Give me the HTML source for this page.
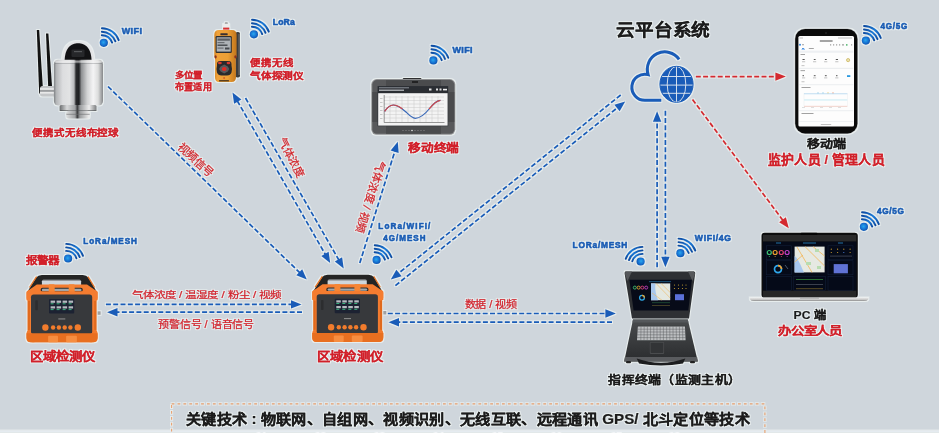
<!DOCTYPE html>
<html lang="zh-CN"><head><meta charset="utf-8"><style>
html,body{margin:0;padding:0;background:#cfd6dc;}
body{width:939px;height:433px;overflow:hidden;font-family:"Liberation Sans",sans-serif;}
svg{display:block}
</style></head><body>
<svg width="939" height="433" viewBox="0 0 939 433">
<filter id="halo" x="-5%" y="-5%" width="110%" height="110%" color-interpolation-filters="sRGB"><feMorphology in="SourceAlpha" operator="dilate" radius="0.9" result="d"/><feGaussianBlur in="d" stdDeviation="0.6" result="b"/><feFlood flood-color="#eef4f2" flood-opacity="0.75"/><feComposite in2="b" operator="in" result="h"/><feMerge><feMergeNode in="h"/><feMergeNode in="SourceGraphic"/></feMerge></filter>
<rect width="939" height="433" fill="#cfd6dc"/>
<g filter="url(#halo)"><defs>
<radialGradient id="dotg" cx="0.45" cy="0.45" r="0.6"><stop offset="0" stop-color="#29a8f0"/><stop offset="0.6" stop-color="#1670d0"/><stop offset="1" stop-color="#0b4ea8"/></radialGradient>
<linearGradient id="arcg" x1="0" y1="0" x2="1" y2="1"><stop offset="0" stop-color="#0d4aa0"/><stop offset="0.5" stop-color="#1a7ad8"/><stop offset="1" stop-color="#0d4aa0"/></linearGradient>
<linearGradient id="steel" x1="0" y1="0" x2="1" y2="0">
 <stop offset="0" stop-color="#8a8d90"/><stop offset="0.12" stop-color="#e8e9ea"/><stop offset="0.3" stop-color="#c9cbcd"/>
 <stop offset="0.48" stop-color="#6d7073"/><stop offset="0.56" stop-color="#b8babc"/><stop offset="0.8" stop-color="#f4f4f4"/><stop offset="1" stop-color="#9a9c9e"/></linearGradient>
<linearGradient id="orangeg" x1="0" y1="0" x2="0" y2="1"><stop offset="0" stop-color="#f58a36"/><stop offset="1" stop-color="#e86c1e"/></linearGradient>
<linearGradient id="silver" x1="0" y1="0" x2="0" y2="1"><stop offset="0" stop-color="#f0f0f0"/><stop offset="0.6" stop-color="#c8c8c8"/><stop offset="1" stop-color="#8a8a8a"/></linearGradient>
<linearGradient id="rugg" x1="0" y1="0" x2="0" y2="1"><stop offset="0" stop-color="#4a4c4e"/><stop offset="1" stop-color="#2a2c2e"/></linearGradient>
</defs><rect x="0" y="430.6" width="939" height="1.2" fill="#e6ecf0"/><text x="256" y="439.5" font-size="10" font-weight="bold" fill="#f4f6f8" font-family="Liberation Sans, sans-serif">01</text><text x="315" y="439.5" font-size="10" font-weight="bold" fill="#f4f6f8" font-family="Liberation Sans, sans-serif">02</text><text x="374" y="439.5" font-size="10" font-weight="bold" fill="#f4f6f8" font-family="Liberation Sans, sans-serif">03</text><text x="433" y="439.5" font-size="10" font-weight="bold" fill="#f4f6f8" font-family="Liberation Sans, sans-serif">04</text><text x="492" y="439.5" font-size="10" font-weight="bold" fill="#f4f6f8" font-family="Liberation Sans, sans-serif">05</text><text x="551" y="439.5" font-size="10" font-weight="bold" fill="#f4f6f8" font-family="Liberation Sans, sans-serif">06</text><text x="611" y="439.5" font-size="10" font-weight="bold" fill="#f4f6f8" font-family="Liberation Sans, sans-serif">07</text><text x="669" y="439.5" font-size="10" font-weight="bold" fill="#f4f6f8" font-family="Liberation Sans, sans-serif">08</text><rect x="171.6" y="403.9" width="593.3" height="40" fill="none" stroke="#e8a070" stroke-width="1.1" stroke-dasharray="2.8 3.1"/><line x1="108.00" y1="86.50" x2="299.98" y2="272.88" stroke="#1a5cb8" stroke-width="1.7" stroke-dasharray="5 2.3"/><path d="M306.80,279.50 L296.34,275.20 L302.19,269.17Z" fill="#1a5cb8"/><line x1="237.23" y1="100.74" x2="325.47" y2="254.66" stroke="#1a5cb8" stroke-width="1.7" stroke-dasharray="5 2.3"/><path d="M330.20,262.90 L321.33,255.88 L328.62,251.70Z" fill="#1a5cb8"/><path d="M232.50,92.50 L241.37,99.52 L234.08,103.70Z" fill="#1a5cb8"/><line x1="245.50" y1="98.00" x2="338.96" y2="260.17" stroke="#1a5cb8" stroke-width="1.7" stroke-dasharray="5 2.3"/><path d="M343.70,268.40 L334.82,261.40 L342.10,257.21Z" fill="#1a5cb8"/><line x1="359.80" y1="262.90" x2="394.96" y2="150.86" stroke="#1a5cb8" stroke-width="1.7" stroke-dasharray="5 2.3"/><path d="M397.80,141.80 L398.66,153.08 L390.65,150.56Z" fill="#1a5cb8"/><line x1="620.70" y1="95.00" x2="398.21" y2="273.55" stroke="#1a5cb8" stroke-width="1.7" stroke-dasharray="5 2.3"/><path d="M390.80,279.50 L396.36,269.65 L401.62,276.20Z" fill="#1a5cb8"/><line x1="395.40" y1="285.60" x2="617.79" y2="107.44" stroke="#1a5cb8" stroke-width="1.7" stroke-dasharray="5 2.3"/><path d="M625.20,101.50 L619.63,111.34 L614.38,104.79Z" fill="#1a5cb8"/><line x1="105.90" y1="304.40" x2="292.00" y2="304.40" stroke="#1a5cb8" stroke-width="1.7" stroke-dasharray="5 2.3"/><path d="M301.50,304.40 L291.00,308.60 L291.00,300.20Z" fill="#1a5cb8"/><line x1="302.00" y1="312.20" x2="116.50" y2="312.20" stroke="#1a5cb8" stroke-width="1.7" stroke-dasharray="5 2.3"/><path d="M107.00,312.20 L117.50,308.00 L117.50,316.40Z" fill="#1a5cb8"/><line x1="387.80" y1="313.50" x2="606.40" y2="313.50" stroke="#1a5cb8" stroke-width="1.7" stroke-dasharray="5 2.3"/><path d="M615.90,313.50 L605.40,317.70 L605.40,309.30Z" fill="#1a5cb8"/><line x1="612.00" y1="322.20" x2="398.00" y2="322.20" stroke="#1a5cb8" stroke-width="1.7" stroke-dasharray="5 2.3"/><path d="M388.50,322.20 L399.00,318.00 L399.00,326.40Z" fill="#1a5cb8"/><line x1="657.10" y1="267.30" x2="657.10" y2="120.70" stroke="#1a5cb8" stroke-width="1.7" stroke-dasharray="5 2.3"/><path d="M657.10,111.20 L661.30,121.70 L652.90,121.70Z" fill="#1a5cb8"/><line x1="665.40" y1="110.70" x2="665.40" y2="257.80" stroke="#1a5cb8" stroke-width="1.7" stroke-dasharray="5 2.3"/><path d="M665.40,267.30 L661.20,256.80 L669.60,256.80Z" fill="#1a5cb8"/><line x1="695.80" y1="76.60" x2="776.40" y2="76.60" stroke="#d42a30" stroke-width="1.7" stroke-dasharray="5 2.3"/><path d="M785.90,76.60 L775.40,80.80 L775.40,72.40Z" fill="#d42a30"/><line x1="692.50" y1="99.50" x2="783.11" y2="220.59" stroke="#d42a30" stroke-width="1.7" stroke-dasharray="5 2.3"/><path d="M788.80,228.20 L779.15,222.31 L785.87,217.28Z" fill="#d42a30"/><g transform="translate(101.60000000000001,46.4)"><circle cx="2.2" cy="-3.6" r="4.1" fill="url(#dotg)"/><path d="M0.20,-11.20 A11.2,11.2 0 0 1 10.52,-3.83" fill="none" stroke="url(#arcg)" stroke-width="1.9" stroke-linecap="round"/><path d="M0.26,-14.70 A14.7,14.7 0 0 1 13.81,-5.03" fill="none" stroke="url(#arcg)" stroke-width="1.9" stroke-linecap="round"/><path d="M0.32,-18.20 A18.2,18.2 0 0 1 17.10,-6.22" fill="none" stroke="url(#arcg)" stroke-width="1.9" stroke-linecap="round"/></g><g transform="translate(251.7,37.9)"><circle cx="2.2" cy="-3.6" r="4.1" fill="url(#dotg)"/><path d="M0.20,-11.20 A11.2,11.2 0 0 1 10.52,-3.83" fill="none" stroke="url(#arcg)" stroke-width="1.9" stroke-linecap="round"/><path d="M0.26,-14.70 A14.7,14.7 0 0 1 13.81,-5.03" fill="none" stroke="url(#arcg)" stroke-width="1.9" stroke-linecap="round"/><path d="M0.32,-18.20 A18.2,18.2 0 0 1 17.10,-6.22" fill="none" stroke="url(#arcg)" stroke-width="1.9" stroke-linecap="round"/></g><g transform="translate(431.2,64.0)"><circle cx="2.2" cy="-3.6" r="4.1" fill="url(#dotg)"/><path d="M0.20,-11.20 A11.2,11.2 0 0 1 10.52,-3.83" fill="none" stroke="url(#arcg)" stroke-width="1.9" stroke-linecap="round"/><path d="M0.26,-14.70 A14.7,14.7 0 0 1 13.81,-5.03" fill="none" stroke="url(#arcg)" stroke-width="1.9" stroke-linecap="round"/><path d="M0.32,-18.20 A18.2,18.2 0 0 1 17.10,-6.22" fill="none" stroke="url(#arcg)" stroke-width="1.9" stroke-linecap="round"/></g><g transform="translate(863.7,44.2)"><circle cx="2.2" cy="-3.6" r="4.1" fill="url(#dotg)"/><path d="M0.20,-11.20 A11.2,11.2 0 0 1 10.52,-3.83" fill="none" stroke="url(#arcg)" stroke-width="1.9" stroke-linecap="round"/><path d="M0.26,-14.70 A14.7,14.7 0 0 1 13.81,-5.03" fill="none" stroke="url(#arcg)" stroke-width="1.9" stroke-linecap="round"/><path d="M0.32,-18.20 A18.2,18.2 0 0 1 17.10,-6.22" fill="none" stroke="url(#arcg)" stroke-width="1.9" stroke-linecap="round"/></g><g transform="translate(861.7,230.4)"><circle cx="2.2" cy="-3.6" r="4.1" fill="url(#dotg)"/><path d="M0.20,-11.20 A11.2,11.2 0 0 1 10.52,-3.83" fill="none" stroke="url(#arcg)" stroke-width="1.9" stroke-linecap="round"/><path d="M0.26,-14.70 A14.7,14.7 0 0 1 13.81,-5.03" fill="none" stroke="url(#arcg)" stroke-width="1.9" stroke-linecap="round"/><path d="M0.32,-18.20 A18.2,18.2 0 0 1 17.10,-6.22" fill="none" stroke="url(#arcg)" stroke-width="1.9" stroke-linecap="round"/></g><g transform="translate(642.8,265.1) scale(-1,1)"><circle cx="2.2" cy="-3.6" r="4.1" fill="url(#dotg)"/><path d="M0.20,-11.20 A11.2,11.2 0 0 1 10.52,-3.83" fill="none" stroke="url(#arcg)" stroke-width="1.9" stroke-linecap="round"/><path d="M0.26,-14.70 A14.7,14.7 0 0 1 13.81,-5.03" fill="none" stroke="url(#arcg)" stroke-width="1.9" stroke-linecap="round"/><path d="M0.32,-18.20 A18.2,18.2 0 0 1 17.10,-6.22" fill="none" stroke="url(#arcg)" stroke-width="1.9" stroke-linecap="round"/></g><g transform="translate(678.2,256.8)"><circle cx="2.2" cy="-3.6" r="4.1" fill="url(#dotg)"/><path d="M0.20,-11.20 A11.2,11.2 0 0 1 10.52,-3.83" fill="none" stroke="url(#arcg)" stroke-width="1.9" stroke-linecap="round"/><path d="M0.26,-14.70 A14.7,14.7 0 0 1 13.81,-5.03" fill="none" stroke="url(#arcg)" stroke-width="1.9" stroke-linecap="round"/><path d="M0.32,-18.20 A18.2,18.2 0 0 1 17.10,-6.22" fill="none" stroke="url(#arcg)" stroke-width="1.9" stroke-linecap="round"/></g><g transform="translate(65.9,262.1)"><circle cx="2.2" cy="-3.6" r="4.1" fill="url(#dotg)"/><path d="M0.20,-11.20 A11.2,11.2 0 0 1 10.52,-3.83" fill="none" stroke="url(#arcg)" stroke-width="1.9" stroke-linecap="round"/><path d="M0.26,-14.70 A14.7,14.7 0 0 1 13.81,-5.03" fill="none" stroke="url(#arcg)" stroke-width="1.9" stroke-linecap="round"/><path d="M0.32,-18.20 A18.2,18.2 0 0 1 17.10,-6.22" fill="none" stroke="url(#arcg)" stroke-width="1.9" stroke-linecap="round"/></g><g transform="translate(374.4,263.5)"><circle cx="2.2" cy="-3.6" r="4.1" fill="url(#dotg)"/><path d="M0.20,-11.20 A11.2,11.2 0 0 1 10.52,-3.83" fill="none" stroke="url(#arcg)" stroke-width="1.9" stroke-linecap="round"/><path d="M0.26,-14.70 A14.7,14.7 0 0 1 13.81,-5.03" fill="none" stroke="url(#arcg)" stroke-width="1.9" stroke-linecap="round"/><path d="M0.32,-18.20 A18.2,18.2 0 0 1 17.10,-6.22" fill="none" stroke="url(#arcg)" stroke-width="1.9" stroke-linecap="round"/></g><path d="M661.3,100.3 L645,100.3 A13.05,13.05 0 1 1 648.1,74.6 A17.5,17.5 0 0 1 679.1,59.3" fill="none" stroke="#1a5cb8" stroke-width="3" stroke-linecap="butt"/><g transform="translate(676.5,84.3)"><ellipse rx="16.6" ry="18" fill="#1a5cb8"/><g stroke="#e6ecf2" stroke-width="0.9" fill="none"><line x1="-17" y1="0.8" x2="17" y2="0.8"/><line x1="-15" y1="-7.8" x2="15" y2="-7.8"/><line x1="-15" y1="9" x2="15" y2="9"/><line x1="0" y1="-18" x2="0" y2="18"/><ellipse rx="9.3" ry="18"/></g><ellipse rx="16.6" ry="18" fill="none" stroke="#1a5cb8" stroke-width="1"/></g><g>
<linearGradient id="steel2" x1="53.9" y1="0" x2="103" y2="0" gradientUnits="userSpaceOnUse">
 <stop offset="0" stop-color="#7e8184"/><stop offset="0.05" stop-color="#b4b6b8"/><stop offset="0.18" stop-color="#dcdddf"/>
 <stop offset="0.32" stop-color="#e2e3e4"/><stop offset="0.41" stop-color="#b9babc"/><stop offset="0.45" stop-color="#2a2b2d"/>
 <stop offset="0.51" stop-color="#1e1f21"/><stop offset="0.56" stop-color="#8e9092"/><stop offset="0.68" stop-color="#d2d3d4"/>
 <stop offset="0.8" stop-color="#f4f4f5"/><stop offset="0.9" stop-color="#dcdddd"/><stop offset="1" stop-color="#86888a"/></linearGradient>
<linearGradient id="steel3" x1="59.6" y1="0" x2="96.5" y2="0" gradientUnits="userSpaceOnUse">
 <stop offset="0" stop-color="#6a6c6e"/><stop offset="0.2" stop-color="#d8d9da"/><stop offset="0.42" stop-color="#a0a2a4"/>
 <stop offset="0.48" stop-color="#3a3b3d"/><stop offset="0.55" stop-color="#9a9c9e"/><stop offset="0.8" stop-color="#eeeeee"/><stop offset="1" stop-color="#7a7c7e"/></linearGradient>
<path d="M36.8,30 L39.2,30 L43.2,93.5 L39.2,93.5 Z" fill="#121212"/>
<path d="M46,33.6 L48.4,33.6 L52.4,92 L48.4,92 Z" fill="#121212"/>
<rect x="40" y="86" width="17.8" height="10.5" rx="2.5" fill="#c4c6c8"/>
<rect x="40" y="88.3" width="17.8" height="1.3" fill="#f2f2f2"/><rect x="40" y="92.2" width="17.8" height="1.3" fill="#f2f2f2"/>
<rect x="40" y="90.3" width="17.8" height="1.2" fill="#8a8c8e"/>
<path d="M62,62 C62,45.5 70,41 78.1,41 C86.2,41 94.2,45.5 94.2,62 Z" fill="#e4e5e7"/>
<path d="M64.6,62 C64.6,47.5 71,43.2 78.1,43.2 C85.2,43.2 91.6,47.5 91.6,62 Z" fill="#121214"/>
<rect x="71.5" y="49.5" width="13" height="7.5" rx="1" fill="#26272a"/>
<rect x="74" y="51" width="8" height="1.2" fill="#55575a"/>
<rect x="53.9" y="59.8" width="49.1" height="45.7" rx="4.5" fill="url(#steel2)"/>
<rect x="55" y="60.5" width="47" height="2.2" rx="1" fill="#f0f0f0" opacity="0.55"/>
<rect x="55" y="63" width="47" height="0.8" fill="#5a5c5e" opacity="0.35"/>
<rect x="59.6" y="105" width="36.9" height="6" rx="1.5" fill="url(#steel3)"/>
<rect x="59.6" y="110" width="36.9" height="1" fill="#4a4c4e" opacity="0.6"/>
<rect x="66.4" y="110.8" width="23.3" height="7.8" rx="2.5" fill="url(#steel3)"/>
<rect x="66.4" y="113.8" width="23.3" height="1" fill="#6a6c6e" opacity="0.6"/>
</g><g>
<linearGradient id="gasg" x1="213.8" y1="0" x2="237" y2="0" gradientUnits="userSpaceOnUse">
 <stop offset="0" stop-color="#cf7f1c"/><stop offset="0.15" stop-color="#f0a23a"/><stop offset="0.6" stop-color="#eca036"/><stop offset="1" stop-color="#c0731a"/></linearGradient>
<rect x="224.8" y="22.3" width="3" height="2" rx="0.8" fill="#9a9a9a"/>
<rect x="223.1" y="23.8" width="6.2" height="6.6" rx="1.2" fill="#ececec"/>
<rect x="223.1" y="27.6" width="6.2" height="2" fill="#d83030"/>
<rect x="235.5" y="32" width="4.5" height="45.5" rx="1.8" fill="#3c3d3e"/>
<rect x="238.6" y="34" width="1" height="41" fill="#7a7b7c"/>
<path d="M214.3,35 Q214.3,30 219,30 L232,30 Q236.6,30 236.6,35 L236.6,56 Q235.6,58.5 235.8,61 L236,77 Q236,82 231.5,82 L219,82 Q215,82 215,77 L215.2,61 Q215.2,58.5 214.3,56 Z" fill="url(#gasg)"/>
<rect x="220.4" y="33.3" width="7.3" height="2" rx="0.5" fill="#3a3030"/>
<rect x="215.6" y="36.1" width="16.2" height="16.8" rx="1.2" fill="#2e3033"/>
<rect x="216.7" y="37.3" width="14" height="14.3" fill="#aeb3b7"/>
<rect x="217.5" y="38.5" width="12.4" height="2.2" fill="#5a5e62"/>
<rect x="217.5" y="42" width="7" height="1.2" fill="#6a6e72"/><rect x="217.5" y="44.5" width="10" height="1.4" fill="#44484c"/>
<rect x="217.5" y="47.5" width="6" height="1.2" fill="#6a6e72"/><rect x="225" y="47.5" width="4.5" height="2" fill="#44484c"/>
<ellipse cx="215.6" cy="56.8" rx="1.1" ry="1.6" fill="#8a3020"/><ellipse cx="235.4" cy="56.8" rx="1.1" ry="1.6" fill="#8a3020"/>
<path d="M220,61 L228.5,61 Q231.5,61 231.5,64 L231.5,65.5 Q232.5,69 231.5,72.5 Q230.5,75.5 227,75.5 L221.5,75.5 Q218,75.5 217,72.5 Q216,69 217,65.5 L217,64 Q217,61 220,61 Z" fill="#2a2a2c"/>
<ellipse cx="219.9" cy="63" rx="1.9" ry="1.2" fill="#d83a30"/><ellipse cx="228.5" cy="63" rx="1.9" ry="1.2" fill="#d83a30"/>
<path d="M224.2,64.5 L227.8,66.5 L229.3,69 L227.8,71.5 L224.2,73.5 L220.6,71.5 L219.1,69 L220.6,66.5 Z" fill="#58595b"/>
<ellipse cx="224.2" cy="69" rx="2.4" ry="2" fill="#e02a24"/>
<circle cx="224.1" cy="78" r="0.8" fill="#c03020"/>
<rect x="219" y="80" width="10" height="1.5" rx="0.6" fill="#5a4020"/>
</g><g>
<rect x="402.7" y="78" width="18.8" height="3.5" rx="1.2" fill="#2e2e30"/>
<rect x="371.3" y="79.1" width="84" height="55.7" rx="5.5" fill="#8e8f91"/>
<rect x="372.3" y="80.1" width="82" height="53.7" rx="4.5" fill="#58595b"/>
<rect x="386" y="80.1" width="55" height="53.7" fill="#4a4b4d"/>
<rect x="372.3" y="92" width="82" height="30" fill="#4a4b4d"/>
<rect x="412" y="81.2" width="6" height="1.6" fill="#1a1a1a"/>
<rect x="377.6" y="86.1" width="70.6" height="40.1" fill="#2a2d32"/>
<rect x="378.2" y="93.2" width="69.4" height="32.4" fill="#f3f3f3"/>
<rect x="379" y="87.3" width="30" height="1" fill="#8a9098"/><rect x="379" y="89.6" width="25" height="1.2" fill="#c0c4c8"/>
<rect x="436" y="88.5" width="2" height="2" fill="#e0e0e0"/><rect x="439.5" y="88.5" width="2" height="2" fill="#e0e0e0"/><rect x="443" y="88.8" width="4" height="1.6" fill="#f0f0f0"/>
<rect x="429" y="88.5" width="2.5" height="2" fill="#e0e0e0"/>
<g stroke="#c8c8c8" stroke-width="0.45">
<line x1="384" y1="97" x2="444" y2="97"/><line x1="384" y1="100.5" x2="444" y2="100.5"/><line x1="384" y1="104" x2="444" y2="104"/><line x1="384" y1="107.5" x2="444" y2="107.5"/><line x1="384" y1="111" x2="444" y2="111"/><line x1="384" y1="114.5" x2="444" y2="114.5"/><line x1="384" y1="118" x2="444" y2="118"/>
<line x1="390" y1="96" x2="390" y2="122"/><line x1="396" y1="96" x2="396" y2="122"/><line x1="402" y1="96" x2="402" y2="122"/><line x1="408" y1="96" x2="408" y2="122"/><line x1="414" y1="96" x2="414" y2="122"/><line x1="420" y1="96" x2="420" y2="122"/><line x1="426" y1="96" x2="426" y2="122"/><line x1="432" y1="96" x2="432" y2="122"/><line x1="438" y1="96" x2="438" y2="122"/>
</g>
<path d="M384.2,95 L384.2,122.5 L444.5,122.5" fill="none" stroke="#555" stroke-width="0.6"/>
<g fill="#aaa"><rect x="380" y="98" width="2.5" height="0.6"/><rect x="380" y="102" width="2.5" height="0.6"/><rect x="380" y="106" width="2.5" height="0.6"/><rect x="380" y="110" width="2.5" height="0.6"/><rect x="380" y="114" width="2.5" height="0.6"/><rect x="380" y="118" width="2.5" height="0.6"/></g>
<path d="M384.6,111.3 C387.5,107 390,105 393.3,105 C398,105 402,108.5 406,112 C409,115 412,118.3 415.3,118.3 C421,118.3 426,113 430,108 C434,103 437,100.5 440.4,100.3" fill="none" stroke="#3868b8" stroke-width="1.2"/>
<path d="M384.6,111.3 C387.5,107 390,105 393.3,105 C397,105 400,107 402.5,109" fill="none" stroke="#d24848" stroke-width="1.2"/>
<path d="M429,109.2 C433,104 436.5,100.6 440.4,100.3" fill="none" stroke="#d24848" stroke-width="1.2"/>
<g fill="#9a9a9a"><circle cx="403" cy="130.5" r="0.5"/><circle cx="406" cy="130.5" r="0.5"/><circle cx="409" cy="130.5" r="0.5"/><circle cx="415" cy="130.5" r="0.5"/><circle cx="418" cy="130.5" r="0.5"/><circle cx="421" cy="130.5" r="0.5"/><circle cx="424" cy="130.5" r="0.5"/></g>
<circle cx="412" cy="130.5" r="0.8" fill="#e8e8e8"/>
</g><g>
<rect x="794.7" y="28.4" width="63.2" height="105.5" rx="10.5" fill="#b8bcc0"/>
<rect x="795.2" y="28.9" width="62.2" height="104.5" rx="10" fill="#0a0a0a"/>
<rect x="798.4" y="36" width="55.6" height="90.4" rx="1.5" fill="#fdfdfd"/>
<circle cx="826" cy="33" r="0.8" fill="#333"/>
<g fill="#b0b0b0"><rect x="799.5" y="37.6" width="3.5" height="0.8"/><rect x="838" y="37.6" width="14" height="0.8"/></g>
<rect x="819.8" y="40.4" width="12.8" height="1.2" fill="#6a6a6a"/>
<circle cx="800" cy="44.8" r="1" fill="#3a8ae0"/><rect x="802" y="44.4" width="2" height="0.8" fill="#888"/>
<g fill="#888"><rect x="830" y="44.4" width="1.2" height="1"/><rect x="833" y="44.4" width="1.2" height="1"/><rect x="836" y="44.4" width="1.2" height="1"/><rect x="839" y="44.4" width="1.2" height="1"/><rect x="842" y="44.4" width="2" height="1"/><rect x="851" y="44.4" width="1.2" height="1"/></g>
<rect x="846" y="44.2" width="1.5" height="1.4" fill="#40b060"/>
<rect x="802" y="48" width="2.2" height="0.9" fill="#3a8ae0"/><rect x="801.5" y="49.3" width="3.5" height="0.5" fill="#3a8ae0"/>
<rect x="808.8" y="48" width="5" height="0.9" fill="#999"/>
<rect x="799.3" y="50.6" width="54" height="2.2" fill="#eef0f3"/>
<g fill="#8a8a8a"><rect x="800.5" y="54.2" width="4.5" height="0.8"/><rect x="800.5" y="70.3" width="4.5" height="0.8"/><rect x="801.5" y="87.2" width="9" height="0.8"/><rect x="801.5" y="113.2" width="12" height="0.8"/></g>
<g fill="#555"><rect x="802.5" y="59" width="2.2" height="1"/><rect x="813.8" y="59" width="1.8" height="1"/><rect x="824.9" y="59" width="1.8" height="1"/><rect x="835.8" y="59" width="2.2" height="1"/>
<rect x="802.5" y="75.2" width="1.5" height="1"/><rect x="813.8" y="75.2" width="1.8" height="1"/><rect x="824.9" y="75.2" width="1.8" height="1"/><rect x="836" y="75.2" width="1.5" height="1"/></g>
<g fill="#b4b4b4"><rect x="802" y="61.4" width="3.2" height="0.8"/><rect x="813" y="61.4" width="3.2" height="0.8"/><rect x="824.1" y="61.4" width="3.2" height="0.8"/><rect x="835.2" y="61.4" width="3.2" height="0.8"/>
<rect x="802" y="77.5" width="3.2" height="0.8"/><rect x="813" y="77.5" width="3.2" height="0.8"/><rect x="824.1" y="77.5" width="3.2" height="0.8"/><rect x="835.2" y="77.5" width="3.2" height="0.8"/>
<rect x="801.5" y="65.3" width="3" height="0.8"/><rect x="801.5" y="81.4" width="3" height="0.8"/></g>
<circle cx="848.1" cy="60.1" r="1.6" fill="#e8e0b0" stroke="#c8b050" stroke-width="0.7"/>
<rect x="847" y="75.2" width="3.3" height="1.8" fill="#2a9ae0"/>
<g fill="#eceef0"><rect x="799.3" y="67.8" width="54" height="1.2"/><rect x="799.3" y="84.2" width="54" height="1"/><rect x="799.3" y="110.2" width="54" height="1"/><rect x="799.3" y="121.2" width="54" height="0.8"/></g>
<g fill="#9ad0e8"><rect x="817" y="92.6" width="2" height="0.8"/><rect x="822" y="92.6" width="2" height="0.8"/></g><rect x="827" y="92.6" width="2" height="0.8" fill="#e8d080"/><rect x="832" y="92.6" width="2" height="0.8" fill="#f0a080"/>
<rect x="804" y="93.6" width="43.3" height="12.9" fill="none" stroke="#e6e8ea" stroke-width="0.4"/>
<line x1="804" y1="93.8" x2="847.3" y2="93.8" stroke="#8ec8f0" stroke-width="0.5"/>
<rect x="804" y="99" width="43.3" height="1.8" fill="#dff3f8"/>
<line x1="804" y1="106.3" x2="847.3" y2="106.3" stroke="#f0b0a0" stroke-width="0.5"/>
<g fill="#c0c0c0"><rect x="802" y="107.3" width="3" height="0.5"/><rect x="811" y="107.3" width="3" height="0.5"/><rect x="820" y="107.3" width="3" height="0.5"/><rect x="829" y="107.3" width="3" height="0.5"/><rect x="838" y="107.3" width="3" height="0.5"/></g>
<rect x="820.8" y="124.2" width="10.4" height="0.6" fill="#999"/>
</g><g>
<rect x="761.5" y="232.8" width="96.3" height="64.8" rx="3.2" fill="#0e0e0e"/>
<rect x="763" y="235" width="93.3" height="6.6" fill="#2a2a2a"/>
<rect x="800.5" y="232.8" width="17" height="2.3" rx="1" fill="#050505"/>
<rect x="763" y="241.6" width="93.3" height="49.1" fill="#050a18"/>
<rect x="763" y="290.7" width="93.3" height="6.6" fill="#262626"/>
<g fill="none" stroke="#15233c" stroke-width="0.5">
<rect x="766.3" y="245.8" width="25" height="14"/><rect x="766.3" y="260.8" width="25" height="14"/><rect x="766.3" y="276.6" width="25" height="13.6"/>
<rect x="828" y="245.8" width="25" height="14"/><rect x="828" y="260.8" width="25" height="14"/><rect x="828" y="276.6" width="25" height="13.6"/>
<rect x="793.8" y="276.6" width="31.5" height="13.6"/></g>
<g fill="#2a8ac8"><rect x="776" y="242.6" width="5" height="0.8"/><rect x="803" y="242.6" width="13" height="0.8"/><rect x="838" y="242.6" width="5" height="0.8"/></g>
<rect x="794.6" y="246.6" width="30" height="25.8" fill="#e6e9e2"/>
<path d="M794.6,256 C798,258 800,264 804,272.4 L794.6,272.4 Z" fill="#a6c6ee"/>
<path d="M797,247 L812,272.4 M805,246.6 L824.6,266 M813,246.6 L824.6,256 M794.6,262 L803,255" stroke="#f2b658" stroke-width="0.8" fill="none"/>
<g fill="#b8dcb0"><rect x="815" y="249" width="4" height="3"/><rect x="806" y="262" width="5" height="3"/><rect x="817" y="266" width="4" height="3"/></g>
<g fill="none" stroke-width="1.2"><circle cx="769.3" cy="252.5" r="2" stroke="#3ac070"/><circle cx="775.1" cy="252.5" r="2" stroke="#e8a030"/><circle cx="781.3" cy="252.5" r="2" stroke="#e04070"/><circle cx="787.1" cy="252.5" r="2" stroke="#c040c8"/></g>
<g fill="#3ac070"><circle cx="769.3" cy="256.6" r="0.5"/></g><circle cx="775.1" cy="256.6" r="0.5" fill="#e8a030"/><circle cx="781.3" cy="256.6" r="0.5" fill="#e04070"/><circle cx="787.1" cy="256.6" r="0.5" fill="#c040c8"/>
<circle cx="778" cy="269.1" r="3.5" fill="none" stroke="#30a8ec" stroke-width="1.7"/>
<path d="M778,265.6 A3.5,3.5 0 0 1 781.5,269.1" fill="none" stroke="#f0a030" stroke-width="1.7"/>
<path d="M785,265 L788,269" stroke="#5a6a80" stroke-width="0.8"/>
<rect x="833.7" y="264.1" width="14.2" height="9.2" fill="#6072d4"/>
<g fill="#d0a030"><circle cx="831.3" cy="249.2" r="0.6"/><circle cx="837.6" cy="249.2" r="0.6"/><circle cx="843.8" cy="249.2" r="0.6"/><circle cx="850.1" cy="249.2" r="0.6"/>
<circle cx="831.3" cy="252.5" r="0.6"/><circle cx="837.6" cy="252.5" r="0.6"/><circle cx="850.1" cy="252.5" r="0.6"/></g><circle cx="843.8" cy="252.5" r="0.6" fill="#4a80e0"/>
<g fill="#6a7080"><rect x="830" y="255.8" width="22" height="0.5"/></g>
<rect x="796" y="279" width="27" height="0.7" fill="#3a9a40"/>
<rect x="796" y="284" width="27" height="0.5" fill="#707480"/>
<rect x="796" y="288.6" width="27" height="0.5" fill="#b09030"/>
<path d="M749.6,297.4 L868.7,297.4 L868,299.5 Q867,301 864,301 L754,301 Q751,301 750.3,299.5 Z" fill="url(#silver)"/>
<rect x="800" y="297.4" width="19" height="1" rx="0.5" fill="#9a9a9a"/>
</g><g>
<path d="M625.5,271.4 L694,271.4 Q695.5,271.6 695.2,273.5 L689,318.5 L632,318.5 L624.6,273.5 Q624.4,271.6 625.5,271.4 Z" fill="#2e3033"/>
<path d="M625.5,271.4 L632,271.4 L627.5,281 L625,274 Z" fill="#55575a"/><path d="M694,271.4 L688,271.4 L692.5,281 L695,274 Z" fill="#55575a"/>
<path d="M629.4,279.8 L691.9,279.8 L688.3,310.4 L633.6,310.4 Z" fill="#070b18"/>
<rect x="651" y="283.4" width="19.2" height="16.8" fill="#e4e8e0"/>
<path d="M651,283.4 L655.5,283.4 C654.5,290 656.5,295 658,300.2 L651,300.2 Z" fill="#a8c8ee"/>
<path d="M656,283.4 L670.2,298 M661,283.4 L670.2,292.5 M652,293 L662,300.2" stroke="#f0b860" stroke-width="0.6" fill="none"/>
<g fill="none" stroke-width="0.9"><circle cx="634.8" cy="287.6" r="1.5" stroke="#40c070"/><circle cx="638.6" cy="287.6" r="1.5" stroke="#e0a030"/><circle cx="642.3" cy="287.6" r="1.5" stroke="#e04080"/><circle cx="646.2" cy="287.6" r="1.5" stroke="#c040c0"/></g>
<circle cx="642" cy="297.8" r="2.4" fill="none" stroke="#30b0f0" stroke-width="1.2"/>
<path d="M642,295.4 A2.4,2.4 0 0 1 644.4,297.8" fill="none" stroke="#e0a030" stroke-width="1.2"/>
<rect x="675" y="294.2" width="9" height="6" fill="#5a70d8"/>
<g fill="#c8a030"><circle cx="674.5" cy="285" r="0.6"/><circle cx="678.5" cy="285" r="0.6"/><circle cx="682.5" cy="285" r="0.6"/><circle cx="686" cy="285" r="0.6"/>
<circle cx="674.5" cy="288.5" r="0.6"/><circle cx="678.5" cy="288.5" r="0.6"/><circle cx="682.5" cy="288.5" r="0.6"/><circle cx="686" cy="288.5" r="0.6"/></g>
<rect x="652" y="302.5" width="18" height="0.6" fill="#2a6a40"/><rect x="652" y="305" width="18" height="0.6" fill="#6a6030"/>
<rect x="649" y="281.3" width="22" height="0.8" fill="#2a8ac0" opacity="0.7"/>
<path d="M633,319.6 L687.8,319.6 L697.8,361.4 L624.2,361.4 Z" fill="url(#rugg)"/>
<path d="M633,319.6 L687.8,319.6 L688.5,322.5 L632.3,322.5 Z" fill="#55585b"/>
<path d="M637.2,325.8 L685.5,325.8 L686.2,340.8 L636.4,340.8 Z" fill="#3a3c3e"/>
<path d="M637.8,326.4 L685,326.4 L685.6,340.2 L637,340.2 Z" fill="#bdbfc1"/>
<g stroke="#55575a" stroke-width="0.45">
<line x1="637.5" y1="329.2" x2="685.2" y2="329.2"/><line x1="637.3" y1="332" x2="685.4" y2="332"/><line x1="637.1" y1="334.8" x2="685.6" y2="334.8"/><line x1="637" y1="337.6" x2="685.7" y2="337.6"/>
<line x1="641" y1="326.4" x2="640.8" y2="340.2"/><line x1="644.2" y1="326.4" x2="644" y2="340.2"/><line x1="647.4" y1="326.4" x2="647.2" y2="340.2"/><line x1="650.6" y1="326.4" x2="650.5" y2="340.2"/>
<line x1="653.8" y1="326.4" x2="653.8" y2="340.2"/><line x1="657" y1="326.4" x2="657" y2="340.2"/><line x1="660.2" y1="326.4" x2="660.2" y2="340.2"/><line x1="663.4" y1="326.4" x2="663.4" y2="340.2"/>
<line x1="666.6" y1="326.4" x2="666.7" y2="340.2"/><line x1="669.8" y1="326.4" x2="669.9" y2="340.2"/><line x1="673" y1="326.4" x2="673.1" y2="340.2"/><line x1="676.2" y1="326.4" x2="676.4" y2="340.2"/>
<line x1="679.4" y1="326.4" x2="679.6" y2="340.2"/><line x1="682.6" y1="326.4" x2="682.8" y2="340.2"/>
</g>
<rect x="649.8" y="342" width="14.3" height="11.9" rx="1" fill="#4a4c4e"/>
<rect x="650.6" y="342.8" width="12.7" height="10.3" rx="0.8" fill="#323436"/>
<path d="M624.8,357 L697.2,357 L697.8,361.4 L624.2,361.4 Z" fill="#5a5c5f"/>
<path d="M636.7,358.6 Q661,367 685.3,358.6 L683,363.5 Q661,367.5 639,363.5 Z" fill="#1c1d1f"/>
<rect x="626" y="361" width="5" height="2.2" rx="1" fill="#222"/><rect x="690" y="361" width="5" height="2.2" rx="1" fill="#222"/>
</g><g>
<path d="M312.5,292.5 L322,277.2 Q323.8,274.7 327.5,274.7 L368.5,274.7 Q372.2,274.7 374,277.2 L383,292.5 Z" fill="#242424"/>
<path d="M315.2,287.2 L322.3,276.3" stroke="#e8701f" stroke-width="1.2" fill="none"/>
<path d="M380.3,287.2 L373.7,276.3" stroke="#e8701f" stroke-width="1.2" fill="none"/>
<rect x="327.6" y="279.4" width="39.2" height="6.5" rx="1.5" fill="#cfd6dc"/>
<rect x="327.6" y="279.4" width="39.2" height="1.2" fill="#4a4a4a" opacity="0.5"/>
<path d="M312.2,300 L312.2,291.5 L322.5,284.3 L372.7,284.3 L383.3,291.5 L383.3,300 Z" fill="#f47c30"/>
<rect x="326.3" y="287.5" width="42.2" height="4.3" rx="2" fill="#2c2c2c"/>
<rect x="327.6" y="288.4" width="39.6" height="2.4" rx="1.2" fill="#a4a6a8"/>
<rect x="334.4" y="284" width="6" height="9.4" rx="1.2" fill="#f58636"/>
<rect x="354.4" y="284" width="6" height="9.4" rx="1.2" fill="#f58636"/>
<rect x="313.4" y="291" width="68.7" height="51" rx="5" fill="#f47c30"/>
<rect x="313.4" y="300" width="2.2" height="30" fill="#e0691c"/><rect x="379.9" y="300" width="2.2" height="30" fill="#e0691c"/>
<rect x="312.2" y="289.8" width="9" height="11" rx="3.5" fill="#f47c30"/><rect x="374.3" y="289.8" width="9" height="11" rx="3.5" fill="#f47c30"/>
<rect x="312.2" y="329.5" width="11" height="12.5" rx="4" fill="#f27a2c"/><rect x="372.3" y="329.5" width="11" height="12.5" rx="4" fill="#f27a2c"/>
<rect x="316.7" y="294.3" width="61.2" height="39.6" rx="2.7" fill="#37393c"/>
<rect x="321" y="300" width="2.5" height="10" rx="0.8" fill="#2c2d2f"/>
<rect x="334.7" y="298.8" width="25.2" height="14.4" rx="1" fill="#1c2232"/>
<g fill="#e8eef0" opacity="0.75"><rect x="336.3" y="300.3" width="4.5" height="2.2"/><rect x="342.3" y="300.3" width="4.5" height="2.2"/><rect x="348.3" y="300.3" width="4.5" height="2.2"/><rect x="354.3" y="300.3" width="4.5" height="2.2"/>
<rect x="336.3" y="306" width="4.5" height="2.2"/><rect x="342.3" y="306" width="4.5" height="2.2"/><rect x="348.3" y="306" width="4.5" height="2.2"/><rect x="354.3" y="306" width="4.5" height="2.2"/></g>
<g fill="#40d890" opacity="0.8"><rect x="336.3" y="303" width="3" height="1"/><rect x="342.3" y="303" width="3" height="1"/><rect x="348.3" y="303" width="3" height="1"/><rect x="354.3" y="303" width="3" height="1"/>
<rect x="336.3" y="308.8" width="3" height="1"/><rect x="342.3" y="308.8" width="3" height="1"/><rect x="348.3" y="308.8" width="3" height="1"/><rect x="354.3" y="308.8" width="3" height="1"/></g>
<rect x="344" y="318.2" width="7" height="0.9" fill="#9a9a9a"/>
<g fill="#f27c2c"><circle cx="331.1" cy="327.2" r="3.2"/><circle cx="338.8" cy="327.2" r="2.2"/><circle cx="344.6" cy="327.2" r="2.2"/><circle cx="350.4" cy="327.2" r="2.2"/><circle cx="356.1" cy="327.2" r="2.2"/><circle cx="363.5" cy="327.2" r="3.2"/></g>
<path d="M312.2,333 L383.3,333 L383.3,337 Q383.3,342 378,342 L317,342 Q312.2,342 312.2,337 Z" fill="#e86f20"/>
<g fill="#f78d40"><rect x="333.8" y="335.5" width="9.9" height="6.5" rx="1"/><rect x="351.8" y="335.5" width="10.8" height="6.5" rx="1"/></g>
<rect x="383.3" y="311" width="3" height="3.5" fill="#a0a0a0"/>
</g><g transform="translate(-285.7,0.3)">
<path d="M312.5,292.5 L322,277.2 Q323.8,274.7 327.5,274.7 L368.5,274.7 Q372.2,274.7 374,277.2 L383,292.5 Z" fill="#242424"/>
<path d="M315.2,287.2 L322.3,276.3" stroke="#e8701f" stroke-width="1.2" fill="none"/>
<path d="M380.3,287.2 L373.7,276.3" stroke="#e8701f" stroke-width="1.2" fill="none"/>
<rect x="327.6" y="279.4" width="39.2" height="6.5" rx="1.5" fill="#cfd6dc"/>
<rect x="327.6" y="279.4" width="39.2" height="1.2" fill="#4a4a4a" opacity="0.5"/>
<path d="M312.2,300 L312.2,291.5 L322.5,284.3 L372.7,284.3 L383.3,291.5 L383.3,300 Z" fill="#f47c30"/>
<rect x="326.3" y="287.5" width="42.2" height="4.3" rx="2" fill="#2c2c2c"/>
<rect x="327.6" y="288.4" width="39.6" height="2.4" rx="1.2" fill="#a4a6a8"/>
<rect x="334.4" y="284" width="6" height="9.4" rx="1.2" fill="#f58636"/>
<rect x="354.4" y="284" width="6" height="9.4" rx="1.2" fill="#f58636"/>
<rect x="313.4" y="291" width="68.7" height="51" rx="5" fill="#f47c30"/>
<rect x="313.4" y="300" width="2.2" height="30" fill="#e0691c"/><rect x="379.9" y="300" width="2.2" height="30" fill="#e0691c"/>
<rect x="312.2" y="289.8" width="9" height="11" rx="3.5" fill="#f47c30"/><rect x="374.3" y="289.8" width="9" height="11" rx="3.5" fill="#f47c30"/>
<rect x="312.2" y="329.5" width="11" height="12.5" rx="4" fill="#f27a2c"/><rect x="372.3" y="329.5" width="11" height="12.5" rx="4" fill="#f27a2c"/>
<rect x="316.7" y="294.3" width="61.2" height="39.6" rx="2.7" fill="#37393c"/>
<rect x="321" y="300" width="2.5" height="10" rx="0.8" fill="#2c2d2f"/>
<rect x="334.7" y="298.8" width="25.2" height="14.4" rx="1" fill="#1c2232"/>
<g fill="#e8eef0" opacity="0.75"><rect x="336.3" y="300.3" width="4.5" height="2.2"/><rect x="342.3" y="300.3" width="4.5" height="2.2"/><rect x="348.3" y="300.3" width="4.5" height="2.2"/><rect x="354.3" y="300.3" width="4.5" height="2.2"/>
<rect x="336.3" y="306" width="4.5" height="2.2"/><rect x="342.3" y="306" width="4.5" height="2.2"/><rect x="348.3" y="306" width="4.5" height="2.2"/><rect x="354.3" y="306" width="4.5" height="2.2"/></g>
<g fill="#40d890" opacity="0.8"><rect x="336.3" y="303" width="3" height="1"/><rect x="342.3" y="303" width="3" height="1"/><rect x="348.3" y="303" width="3" height="1"/><rect x="354.3" y="303" width="3" height="1"/>
<rect x="336.3" y="308.8" width="3" height="1"/><rect x="342.3" y="308.8" width="3" height="1"/><rect x="348.3" y="308.8" width="3" height="1"/><rect x="354.3" y="308.8" width="3" height="1"/></g>
<rect x="344" y="318.2" width="7" height="0.9" fill="#9a9a9a"/>
<g fill="#f27c2c"><circle cx="331.1" cy="327.2" r="3.2"/><circle cx="338.8" cy="327.2" r="2.2"/><circle cx="344.6" cy="327.2" r="2.2"/><circle cx="350.4" cy="327.2" r="2.2"/><circle cx="356.1" cy="327.2" r="2.2"/><circle cx="363.5" cy="327.2" r="3.2"/></g>
<path d="M312.2,333 L383.3,333 L383.3,337 Q383.3,342 378,342 L317,342 Q312.2,342 312.2,337 Z" fill="#e86f20"/>
<g fill="#f78d40"><rect x="333.8" y="335.5" width="9.9" height="6.5" rx="1"/><rect x="351.8" y="335.5" width="10.8" height="6.5" rx="1"/></g>
<rect x="383.3" y="311" width="3" height="3.5" fill="#a0a0a0"/>
</g><g font-family="Liberation Sans, sans-serif"><text x="32.450" y="135.625" font-size="9.660" font-weight="bold" fill="#d2202a" stroke="#d2202a" stroke-width="0.1" textLength="86.607" lengthAdjust="spacingAndGlyphs">便携式无线布控球</text><text x="121.700" y="34.375" font-size="9.565" font-weight="bold" fill="#1a5cb4" stroke="#1a5cb4" stroke-width="0.6" transform="translate(121.700,0) scale(0.94,1) translate(-121.700,0)" textLength="21.513" lengthAdjust="spacing">WIFI</text><text x="272.800" y="25.400" font-size="9.211" font-weight="bold" fill="#1a5cb4" stroke="#1a5cb4" stroke-width="0.6" transform="translate(272.800,0) scale(0.94,1) translate(-272.800,0)" textLength="23.355" lengthAdjust="spacing">LoRa</text><text x="250.450" y="65.525" font-size="8.717" font-weight="bold" fill="#d2202a" stroke="#d2202a" stroke-width="0.1" textLength="43.069" lengthAdjust="spacingAndGlyphs">便携无线</text><text x="250.450" y="78.825" font-size="9.052" font-weight="bold" fill="#d2202a" stroke="#d2202a" stroke-width="0.1" textLength="53.250" lengthAdjust="spacingAndGlyphs">气体探测仪</text><text x="174.700" y="77.925" font-size="8.328" font-weight="bold" fill="#d2202a" stroke="#d2202a" stroke-width="0.06" textLength="27.389" lengthAdjust="spacingAndGlyphs">多位置</text><text x="174.950" y="89.525" font-size="8.904" font-weight="bold" fill="#d2202a" stroke="#d2202a" stroke-width="0.06" textLength="36.929" lengthAdjust="spacingAndGlyphs">布置适用</text><text x="452.400" y="53.075" font-size="9.565" font-weight="bold" fill="#1a5cb4" stroke="#1a5cb4" stroke-width="0.6" transform="translate(452.400,0) scale(0.94,1) translate(-452.400,0)" textLength="21.407" lengthAdjust="spacing">WIFI</text><text x="407.950" y="152.425" font-size="11.926" font-weight="bold" fill="#d2202a" stroke="#d2202a" stroke-width="0.15" textLength="51.288" lengthAdjust="spacingAndGlyphs">移动终端</text><text x="615.950" y="35.550" font-size="16.819" font-weight="bold" fill="#1c1c1c" stroke="#1c1c1c" stroke-width="0.15" textLength="94.311" lengthAdjust="spacingAndGlyphs">云平台系统</text><text x="880.400" y="28.725" font-size="8.642" font-weight="bold" fill="#1a5cb4" stroke="#1a5cb4" stroke-width="0.6" transform="translate(880.400,0) scale(0.94,1) translate(-880.400,0)" textLength="28.729" lengthAdjust="spacing">4G/5G</text><text x="806.550" y="148.000" font-size="11.857" font-weight="bold" fill="#1c1c1c" stroke="#1c1c1c" stroke-width="0.15" textLength="39.539" lengthAdjust="spacingAndGlyphs">移动端</text><text x="767.500" y="164.150" font-size="12.577" font-weight="bold" fill="#d2202a" stroke="#d2202a" stroke-width="0.15" textLength="117.574" lengthAdjust="spacingAndGlyphs">监护人员 / 管理人员</text><text x="876.900" y="214.075" font-size="8.761" font-weight="bold" fill="#1a5cb4" stroke="#1a5cb4" stroke-width="0.6" transform="translate(876.900,0) scale(0.94,1) translate(-876.900,0)" textLength="28.729" lengthAdjust="spacing">4G/5G</text><text x="793.600" y="319.275" font-size="10.859" font-weight="bold" fill="#1c1c1c" stroke="#1c1c1c" stroke-width="0.15" textLength="32.641" lengthAdjust="spacingAndGlyphs">PC 端</text><text x="777.750" y="335.350" font-size="11.435" font-weight="bold" fill="#d2202a" stroke="#d2202a" stroke-width="0.15" textLength="64.453" lengthAdjust="spacingAndGlyphs">办公室人员</text><text x="572.600" y="248.425" font-size="8.882" font-weight="bold" fill="#1a5cb4" stroke="#1a5cb4" stroke-width="0.6" transform="translate(572.600,0) scale(0.94,1) translate(-572.600,0)" textLength="58.284" lengthAdjust="spacing">LORa/MESH</text><text x="694.800" y="241.225" font-size="9.236" font-weight="bold" fill="#1a5cb4" stroke="#1a5cb4" stroke-width="0.6" transform="translate(694.800,0) scale(0.94,1) translate(-694.800,0)" textLength="38.497" lengthAdjust="spacing">WIFI/4G</text><text x="608.450" y="384.350" font-size="11.667" font-weight="bold" fill="#1c1c1c" stroke="#1c1c1c" stroke-width="0.15" textLength="132.629" lengthAdjust="spacingAndGlyphs">指挥终端（监测主机）</text><text x="25.650" y="264.275" font-size="10.234" font-weight="bold" fill="#d2202a" stroke="#d2202a" stroke-width="0.1" textLength="33.855" lengthAdjust="spacingAndGlyphs">报警器</text><text x="83.300" y="244.425" font-size="8.642" font-weight="bold" fill="#1a5cb4" stroke="#1a5cb4" stroke-width="0.6" transform="translate(83.300,0) scale(0.94,1) translate(-83.300,0)" textLength="57.092" lengthAdjust="spacing">LoRa/MESH</text><text x="30.050" y="360.600" font-size="12.243" font-weight="bold" fill="#d2202a" stroke="#d2202a" stroke-width="0.15" textLength="65.189" lengthAdjust="spacingAndGlyphs">区域检测仪</text><text x="317.350" y="360.600" font-size="12.243" font-weight="bold" fill="#d2202a" stroke="#d2202a" stroke-width="0.15" textLength="65.293" lengthAdjust="spacingAndGlyphs">区域检测仪</text><text x="132.100" y="297.775" font-size="9.445" font-weight="500" fill="#d2202a" stroke="#d2202a" stroke-width="0.22" textLength="149.124" lengthAdjust="spacingAndGlyphs">气体浓度 / 温湿度 / 粉尘 / 视频</text><text x="158.100" y="328.000" font-size="10.149" font-weight="500" fill="#d2202a" stroke="#d2202a" stroke-width="0.22" textLength="96.104" lengthAdjust="spacingAndGlyphs">预警信号 / 语音信号</text><text x="464.600" y="307.750" font-size="10.320" font-weight="500" fill="#d2202a" stroke="#d2202a" stroke-width="0.22" textLength="52.294" lengthAdjust="spacingAndGlyphs">数据 / 视频</text><text x="378.300" y="228.825" font-size="8.642" font-weight="bold" fill="#1a5cb4" stroke="#1a5cb4" stroke-width="0.6" transform="translate(378.300,0) scale(0.94,1) translate(-378.300,0)" textLength="55.372" lengthAdjust="spacing">LoRa/WIFI/</text><text x="383.200" y="240.675" font-size="8.525" font-weight="bold" fill="#1a5cb4" stroke="#1a5cb4" stroke-width="0.6" transform="translate(383.200,0) scale(0.94,1) translate(-383.200,0)" textLength="44.956" lengthAdjust="spacing">4G/MESH</text><text x="185.850" y="424.175" font-size="13.832" font-weight="bold" fill="#1c1c1c" stroke="#1c1c1c" stroke-width="0.22" textLength="564.261" lengthAdjust="spacingAndGlyphs">关键技术 : 物联网、自组网、视频识别、无线互联、远程通讯 GPS/ 北斗定位等技术</text><text x="0" y="4.03" font-size="11.2" fill="#d2232a" stroke="#d2232a" stroke-width="0.22" font-weight="500" text-anchor="middle" transform="translate(196,160) rotate(43)">视频信号</text><text x="0" y="3.89" font-size="10.8" fill="#d2232a" stroke="#d2232a" stroke-width="0.22" font-weight="500" text-anchor="middle" transform="translate(291.2,157.7) rotate(63)">气体浓度</text><text x="0" y="3.89" font-size="10.8" fill="#d2232a" stroke="#d2232a" stroke-width="0.22" font-weight="500" text-anchor="middle" transform="translate(370.4,197) rotate(108)">气体浓度 / 视频</text></g></g>
</svg></body></html>
